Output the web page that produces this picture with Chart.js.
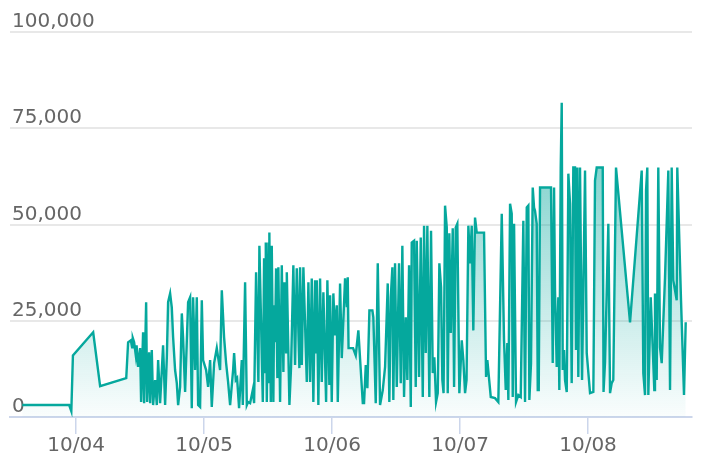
<!DOCTYPE html>
<html>
<head>
<meta charset="utf-8">
<script src="https://cdn.jsdelivr.net/npm/chart.js@4"></script>
<style>
  html, body { margin: 0; padding: 0; background: #fff; }
  #wrap { width: 702px; height: 470px; }
</style>
</head>
<body>
<div id="wrap"><canvas id="chart" width="702" height="470"></canvas></div>
<script>
// hours counted from 10/03 00:00
const hours = [
  13.9, 22.7, 23.1, 23.4, 27.2, 28.5, 33.4, 33.75, 34.26, 34.5,
  34.63, 34.88, 35.19, 35.34, 35.63, 36.0, 36.19, 36.56, 36.75, 37.13,
  37.31, 37.69, 37.88, 38.19, 38.44, 38.81, 39.13, 39.38, 39.75, 40.07,
  40.31, 40.69, 41.01, 41.25, 41.63, 41.94, 42.19, 42.56, 42.88, 43.13,
  43.5, 43.82, 44.06, 44.44, 45.0, 45.38, 45.69, 45.94, 46.31, 46.63,
  46.88, 47.25, 47.57, 47.81, 48.38, 48.75, 49.13, 49.44, 49.88, 50.38,
  50.63, 51.0, 51.32, 51.75, 52.13, 52.5, 52.88, 53.44, 53.63, 53.94,
  54.19, 54.56, 55.07, 55.26, 55.69, 56.01, 56.25, 56.63, 57.13, 57.38,
  57.75, 58.18, 58.37, 59.01, 59.25, 59.44, 59.57, 59.76, 60.06, 60.19,
  60.24, 60.51, 60.69, 60.99, 61.13, 61.31, 61.5, 61.74, 61.93, 62.25,
  62.57, 62.87, 63.06, 63.38, 63.51, 64.0, 64.31, 64.74, 65.06, 65.38,
  65.87, 66.0, 66.32, 66.62, 67.26, 67.56, 67.88, 68.19, 68.49, 68.81,
  69.0, 69.13, 69.43, 69.75, 70.07, 70.37, 70.88, 71.12, 71.49, 71.63,
  71.94, 72.24, 72.56, 72.88, 73.07, 73.5, 73.82,
  74.44, 74.76, 74.94, 75.09, 75.94, 76.44, 76.93,
  77.38, 77.76, 78.0, 78.32, 78.62, 79.0, 79.56, 79.74, 80.19, 80.57,
  81.0, 81.51, 81.94, 82.44, 82.74, 83.01, 83.31, 83.49, 83.81, 84.13,
  84.56, 84.88, 85.18, 85.5, 85.82, 86.12, 86.44, 86.76, 86.94, 87.38,
  87.69, 87.88, 88.31, 88.63, 89.01, 89.25, 89.57, 89.87, 90.24, 90.56,
  90.88, 91.18, 91.5, 91.82, 92.12, 92.44, 92.68, 92.91, 93.19, 93.51,
  93.69, 93.99, 94.26, 94.63, 94.88, 95.19, 95.49, 95.87, 96.32, 96.62,
  96.94, 97.22, 97.56, 97.88, 98.19, 98.49, 98.81, 99.13, 100.5, 100.88,
  101.12, 101.76, 102.56, 103.18, 103.82, 104.25, 104.57, 104.87, 105.06, 105.38,
  105.69, 105.88, 106.13, 106.31, 106.5, 106.93, 107.38, 107.87, 108.19, 108.51,
  108.81, 109.0, 109.31, 109.63, 109.88, 110.06, 110.38, 110.57, 110.76, 111.0,
  113.06, 113.38, 113.63, 113.81, 114.13, 114.43, 114.62, 114.88, 115.07, 115.26,
  115.5, 115.69, 116.01, 116.31, 116.63, 116.94, 117.24, 117.56, 117.75, 117.99,
  118.18, 118.5, 118.88, 119.44, 119.76, 120.38, 121.0, 121.31, 121.63, 122.76,
  122.91, 123.19, 123.81, 124.13, 124.44, 124.74, 125.25, 127.88, 130.07, 130.37,
  130.69, 130.88, 131.12, 131.31, 131.76, 132.13, 132.43, 132.56, 132.88, 133.18,
  133.5, 133.82, 134.44, 135.06, 135.38, 135.69, 136.0, 136.63, 136.74, 137.44,
  138.0, 138.32
];

const values = [
  3100, 3100, 1500, 16000, 22000, 8000, 10100, 19400, 19900, 18100,
  20500, 19400, 16000, 18600, 13000, 17900, 3900, 22000, 3600, 29800,
  3900, 16800, 3600, 17400, 3100, 9600, 3100, 14800, 3600, 12200,
  18600, 3100, 15500, 29800, 32100, 28500, 20700, 12200, 8800, 3100,
  7800, 26900, 20700, 6500, 29800, 31100, 2300, 31100, 12200, 31100,
  3100, 2600, 30300, 14800, 12200, 7800, 14800, 2600, 14000, 17900,
  15500, 12200, 32900, 20700, 14000, 9100, 3100, 12200, 16600, 9600,
  10100, 2300, 14800, 3100, 35000, 3100, 3900, 3600, 7000, 3600,
  37600, 9100, 44500, 3900, 41200, 11700, 45300, 3900, 45300, 9100,
  47900, 3900, 44500, 3900, 29000, 19400, 38600, 10100, 38900, 3900,
  39400, 11700, 35000, 16800, 37600, 3100, 13000, 39400, 13500, 38600,
  12700, 38900, 13500, 38900, 9100, 35000, 9100, 36000, 3900, 35500,
  16800, 35500, 3100, 36000, 9100, 32400, 3900, 35500, 8300, 31600,
  3900, 32100, 21200, 29000, 3900, 34700, 15300,
  36000, 28500, 36300, 17900, 17900, 16000, 22500,
  12200, 3600, 3600, 13500, 7500, 27700, 27700, 25900, 3600, 39900,
  3100, 7000, 13000, 34700, 3900, 31100, 38900, 4400, 39900, 7800,
  39900, 8800, 44500, 5200, 25900, 9600, 39400, 2600, 45300, 45800,
  7800, 45800, 10400, 46600, 5200, 49700, 16600, 49700, 5200, 48400,
  11400, 15500, 3900, 6200, 39900, 33700, 9600, 6200, 54900, 49200,
  6200, 47700, 21800, 49000, 7800, 49200, 50200, 6200, 19900, 14800,
  6200, 9600, 49700, 39900, 49700, 22500, 51800, 47900, 47900, 10400,
  14800, 5200, 4900, 3900, 52800, 19900, 7000, 19200, 4400, 55400,
  52800, 5200, 50200, 27700, 3900, 5700, 5200, 51000, 3900, 54400,
  54900, 4400, 14000, 59600, 54400, 53600, 50200, 7000, 7000, 59600,
  59600, 14000, 59600, 32900, 13000, 31100, 7000, 64800, 81600, 12200,
  17400, 9600, 6500, 63200, 55400, 8800, 64800, 64800, 17400, 64800,
  10400, 64800, 9600, 64000, 16600, 6200, 6500, 61400, 64800, 64800,
  6500, 14200, 50200, 6200, 8800, 9600, 64800, 24600, 64000, 11400,
  5700, 58800, 64800, 5700, 31100, 18100, 7000, 32100, 9600, 64800,
  18100, 14000, 36300, 64000, 7000, 64800, 35500, 30300, 64800, 30300,
  5700, 24600
];

const xTickHours = [24, 48, 72, 96, 120];
const xTickLabels = ['10/04', '10/05', '10/06', '10/07', '10/08'];
const yTicks = [0, 25000, 50000, 75000, 100000];

const points = hours.map((h, i) => ({ x: h, y: values[i] }));

function areaFill(context) {
    const chart = context.chart;
    const area = chart.chartArea;
    if (!area) return 'rgba(10, 168, 158, 0.3)';
    const g = chart.ctx.createLinearGradient(0, area.top, 0, area.bottom);
    g.addColorStop(0, 'rgba(10, 168, 158, 0.75)');
    g.addColorStop(1, 'rgba(10, 168, 158, 0.02)');
    return g;
}

new Chart(document.getElementById('chart'), {
    type: 'line',
    data: {
        datasets: [{
            data: points,
            borderColor: '#05a89d',
            borderWidth: 2.4,
            backgroundColor: areaFill,
            fill: 'origin',
            pointRadius: 0,
            tension: 0
        }]
    },
    options: {
        responsive: false,
        animation: false,
        layout: { padding: { left: 10, right: 10, top: 32, bottom: 0 } },
        plugins: {
            legend: { display: false },
            tooltip: { enabled: false }
        },
        scales: {
            x: {
                type: 'linear',
                min: 11.6,
                max: 139.5,
                afterFit: scale => { scale.height = 53; },
                afterBuildTicks: scale => {
                    scale.ticks = xTickHours.map(v => ({ value: v }));
                },
                grid: {
                    drawOnChartArea: false,
                    drawTicks: true,
                    tickLength: 17,
                    color: '#ccd6eb',
                    lineWidth: 1.5
                },
                border: { color: '#ccd6eb', width: 2 },
                ticks: {
                    maxRotation: 0,
                    autoSkip: false,
                    padding: 0,
                    color: '#666',
                    font: { family: 'DejaVu Sans', size: 20 },
                    callback: value => xTickLabels[xTickHours.indexOf(value)]
                }
            },
            y: {
                min: 0,
                max: 100000,
                afterFit: scale => { scale.width = 0; },
                afterBuildTicks: scale => {
                    scale.ticks = yTicks.map(v => ({ value: v }));
                },
                grid: {
                    drawTicks: false,
                    color: ctx => ctx.tick && ctx.tick.value === 0 ? 'rgba(0,0,0,0)' : '#e8e8e8',
                    lineWidth: 2
                },
                border: { display: false },
                ticks: {
                    mirror: true,
                    padding: 2,
                    labelOffset: -10,
                    color: '#666',
                    font: { family: 'DejaVu Sans', size: 20 },
                    callback: value => value.toLocaleString('en-US')
                }
            }
        }
    }
});
</script>
</body>
</html>
